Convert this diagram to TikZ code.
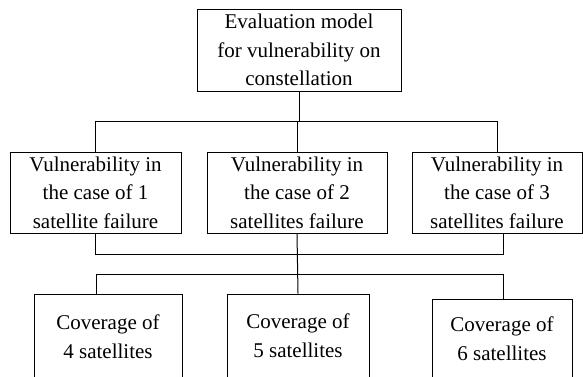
\documentclass[tikz,border=0pt]{standalone}
\usepackage{fontspec}
\setmainfont{Liberation Serif}
\usetikzlibrary{calc}

\tikzset{
    box/.style={draw, inner sep=0pt, align=center,
        font=\fontsize{10.5}{14.25}\selectfont},
}

\begin{document}
\begin{tikzpicture}[x=0.5pt, y=-0.5pt, line width=0.5pt]
    \def\px{0.5pt}
    \useasboundingbox (0,0) rectangle (583,376);
    \clip (0,0) rectangle (583,376);

    % --- 1. 頂層：評估模型 ---
    \node[box, minimum width=204*\px, minimum height=81.5*\px] (model) at (299,50.25)
        {Evaluation model\\for vulnerability on\\constellation};

    % --- 2. 中層：衛星失效情形 ---
    \node[box, minimum width=171*\px, minimum height=81*\px] (fail1) at (95.5,192.5)
        {Vulnerability in\\the case of 1\\satellite failure};
    \node[box, minimum width=180*\px, minimum height=81*\px] (fail2) at (297,192.5)
        {Vulnerability in\\the case of 2\\satellites failure};
    \node[box, minimum width=170*\px, minimum height=81*\px] (fail3) at (497,192.5)
        {Vulnerability in\\the case of 3\\satellites failure};

    % --- 3. 底層：覆蓋 ---
    \node[box, minimum width=148*\px, minimum height=85*\px] (cover4) at (108,336.5)
        {Coverage of\\4 satellites};
    \node[box, minimum width=142*\px, minimum height=83*\px] (cover5) at (298,335.5)
        {Coverage of\\5 satellites};
    \node[box, minimum width=140*\px, minimum height=79*\px] (cover6) at (502,338.5)
        {Coverage of\\6 satellites};

    % --- 4. 連線 ---
    \coordinate (barA) at (96,121.5);
    \coordinate (failR) at (503,254.5);
    \coordinate (coverL) at (96,274);
    \coordinate (coverR) at (503,274);

    \draw (model.south) -- (model.south |- barA);
    \draw (fail1.north) |- (fail3.north |- barA) -- (fail3.north);
    \draw (fail2.north) -- (fail2.north |- barA);

    \draw (fail1.south) |- (failR) -- (failR |- fail3.south);
    \draw (fail2.south) -- (cover5.north);
    \draw (cover4.north -| coverL) |- (coverR) -- (cover6.north -| coverR);
\end{tikzpicture}
\end{document}
